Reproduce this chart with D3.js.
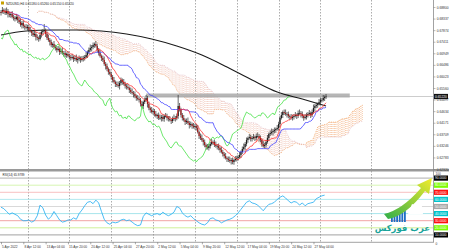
<!DOCTYPE html>
<html>
<head>
<meta charset="utf-8">
<script src="https://cdn.jsdelivr.net/npm/d3@7"></script>
<style>
  body { margin: 0; background: #fff; }
  svg { display: block; }
  text { font-family: "Liberation Sans", Arial, sans-serif; }
</style>
</head>
<body>
<svg id="chart" width="449" height="250"></svg>
<script>
// ---------------------------------------------------------------- //
// Data (prices written x10000, converted below)

var symbolTitle = 'NZDUSD,H4  0.65180 0.65260 0.65150 0.65220';
var firstOpen = 6856;

var closesPips = [
  6860,6868,6864,6856,6864,6852,6848,6852,6840,6836,
  6832,6840,6828,6820,6808,6816,6804,6800,6796,6800,
  6788,6784,6776,6768,6772,6760,6756,6752,6768,6780,
  6784,6788,6772,6756,6748,6740,6728,6732,6720,6716,
  6708,6712,6700,6704,6696,6696,6688,6692,6684,6680,
  6676,6680,6672,6676,6668,6672,6676,6668,6672,6676,
  6680,6688,6700,6708,6716,6720,6728,6732,6724,6708,
  6696,6684,6676,6668,6652,6644,6632,6620,6612,6600,
  6588,6580,6572,6568,6564,6576,6588,6580,6572,6564,
  6560,6556,6548,6540,6536,6532,6524,6516,6512,6508,
  6492,6484,6500,6508,6516,6492,6476,6468,6460,6464,
  6452,6444,6448,6436,6436,6440,6432,6444,6444,6436,
  6432,6428,6424,6432,6436,6436,6444,6484,6468,6448,
  6436,6428,6420,6424,6416,6408,6412,6404,6400,6404,
  6396,6380,6364,6356,6348,6340,6328,6320,6316,6324,
  6332,6340,6340,6328,6324,6324,6316,6308,6300,6292,
  6284,6276,6272,6268,6264,6268,6260,6268,6272,6276,
  6280,6288,6300,6312,6320,6332,6348,6356,6360,6352,
  6356,6360,6356,6364,6364,6356,6348,6332,6324,6328,
  6340,6356,6372,6376,6380,6384,6388,6392,6396,6412,
  6436,6448,6460,6456,6452,6452,6444,6440,6436,6440,
  6444,6448,6444,6456,6456,6452,6444,6436,6440,6448,
  6452,6456,6448,6460,6476,6484,6488,6492,6500,6508,
  6508,6516,6520,6522
];
var highsPips = [
  6868,6880,6874,6874,6878,6872,6862,6858,6864,6849,
  6844,6852,6846,6838,6834,6824,6826,6810,6812,6809,
  6808,6800,6790,6786,6786,6780,6770,6762,6780,6789,
  6792,6812,6794,6782,6770,6756,6750,6738,6744,6729,
  6724,6724,6718,6714,6718,6704,6706,6698,6704,6693,
  6688,6692,6686,6686,6690,6680,6686,6682,6684,6685,
  6688,6700,6706,6718,6730,6728,6738,6738,6744,6733,
  6716,6708,6690,6686,6682,6660,6654,6638,6632,6621,
  6608,6600,6586,6582,6582,6584,6598,6594,6592,6581,
  6572,6572,6562,6558,6554,6544,6542,6530,6528,6521,
  6516,6504,6506,6518,6528,6524,6502,6482,6480,6473,
  6472,6464,6454,6458,6450,6448,6450,6450,6456,6453,
  6444,6444,6434,6442,6450,6444,6454,6528,6496,6477,
  6456,6448,6434,6434,6438,6424,6422,6418,6416,6413,
  6412,6408,6386,6374,6370,6356,6350,6334,6332,6333,
  6340,6352,6346,6350,6342,6332,6334,6322,6320,6309,
  6300,6296,6282,6282,6282,6276,6278,6274,6284,6285,
  6288,6300,6306,6322,6334,6340,6358,6362,6372,6369,
  6364,6372,6366,6374,6378,6372,6366,6354,6344,6337,
  6348,6368,6378,6386,6394,6392,6398,6398,6408,6421,
  6444,6460,6466,6470,6470,6460,6462,6450,6452,6449,
  6452,6460,6454,6466,6470,6464,6462,6450,6452,6457,
  6460,6468,6462,6470,6490,6492,6498,6498,6512,6517,
  6516,6528,6526,6532
];
var lowsPips = [
  6846,6854,6852,6848,6849,6838,6839,6837,6834,6826,
  6822,6826,6816,6812,6801,6794,6795,6789,6790,6786,
  6778,6778,6764,6760,6761,6746,6747,6741,6746,6758,
  6770,6778,6760,6748,6741,6726,6719,6717,6714,6706,
  6698,6702,6688,6692,6689,6682,6679,6677,6678,6670,
  6666,6670,6660,6664,6661,6654,6663,6657,6662,6662,
  6666,6674,6676,6692,6701,6702,6711,6717,6718,6698,
  6686,6678,6664,6660,6645,6630,6623,6609,6606,6590,
  6578,6574,6560,6560,6557,6550,6567,6569,6566,6554,
  6550,6550,6536,6532,6529,6518,6515,6505,6506,6498,
  6482,6478,6472,6492,6501,6478,6467,6457,6454,6450,
  6442,6438,6432,6428,6429,6422,6423,6421,6438,6426,
  6422,6422,6412,6416,6425,6422,6427,6433,6462,6438,
  6426,6422,6408,6412,6409,6394,6399,6393,6394,6390,
  6386,6374,6352,6348,6341,6326,6319,6309,6310,6306,
  6314,6326,6328,6320,6317,6310,6307,6297,6294,6282,
  6274,6270,6260,6260,6257,6250,6251,6249,6262,6262,
  6266,6274,6276,6292,6305,6306,6323,6337,6350,6342,
  6342,6350,6344,6348,6357,6342,6339,6321,6318,6314,
  6318,6334,6344,6364,6369,6366,6375,6377,6386,6386,
  6402,6430,6436,6448,6445,6438,6435,6429,6430,6426,
  6430,6438,6432,6436,6449,6438,6435,6425,6430,6430,
  6438,6446,6436,6440,6453,6462,6475,6477,6486,6490,
  6498,6502,6504,6512
];

// 200 period moving average, read at a few bars
var maBars = [0, 18, 36, 54, 72, 90, 108, 126, 144, 162, 180, 198, 216, 233];
var maPips = [6768, 6784, 6788, 6788, 6784, 6772, 6752, 6724, 6688, 6640, 6588, 6540, 6512, 6484];

// RSI(14), one reading every 2 bars
var rsiEvery = 2;
var rsiValues = [
  49,47,43,39,41,39,37,32,30,30, 31,28,30,37,52,48,38,32,36,43,
  37,31,28,29,31,31,34,32,40,45, 51,56,57,54,59,55,43,32,27,25,
  28,27,28,31,32,30,31,28,25,23, 24,36,41,39,37,39,40,38,42,39,
  37,39,42,50,48,41,37,35,37,33, 30,27,25,24,27,33,34,31,30,27,
  29,31,32,34,37,41,46,51,56,58, 55,54,52,48,44,49,53,54,56,60,
  63,65,62,58,55,57,56,52,55,51, 54,55,56,61,63,65,65.9789
];
var rsiLevels = [90, 80, 70, 60, 50, 40, 30, 20, 10];

// resistance zone and last price
var zoneBars = [104, 250];
var zonePrices = [0.6518, 0.6534];
var lastPrice = 0.6522;

// axes
var priceTicks = [0.68800, 0.68337, 0.67874, 0.67411, 0.66949, 0.66486, 0.66023, 0.65560,
                  0.65097, 0.64634, 0.64171, 0.63709, 0.63246, 0.62783, 0.62320];
var timeBars = [0, 16, 32, 48, 64, 80, 96, 112, 128, 144, 160, 176, 192, 208, 224];
var timeLabels = ['5 Apr 2022', '8 Apr 12:00', '13 Apr 04:00', '15 Apr 20:00', '20 Apr 12:00',
                  '25 Apr 04:00', '27 Apr 20:00', '2 May 12:00', '5 May 04:00', '9 May 20:00',
                  '12 May 12:00', '17 May 04:00', '19 May 20:00', '24 May 12:00', '27 May 04:00'];
var weekBars = [19, 49, 79, 109, 139, 169, 199, 229, 265];

// ---------------------------------------------------------------- //
// Prepare

function toPrice(v){ return v / 10000; }
var closes = closesPips.map(toPrice);
var highs = highsPips.map(toPrice);
var lows = lowsPips.map(toPrice);
var opens = closes.map(function(c, i){ return i ? closes[i-1] : toPrice(firstOpen); });
var n = closes.length;

function midRange(end, len){
  var s = Math.max(0, end - len + 1);
  return (d3.max(highs.slice(s, end+1)) + d3.min(lows.slice(s, end+1))) / 2;
}
var tenkan = d3.range(n).map(function(i){ return midRange(i, 9); });
var kijun  = d3.range(n).map(function(i){ return midRange(i, 26); });
var spanA  = d3.range(n).map(function(i){ return (tenkan[i] + kijun[i]) / 2; });
var spanB  = d3.range(n).map(function(i){ return midRange(i, 52); });
var shift = 26;

// ---------------------------------------------------------------- //
// Layout

var svg = d3.select('#chart');
var plotRight = 433;
var mainBottom = 169, rsiTop = 171, rsiBottom = 242;

var x  = d3.scaleLinear().domain([0, 100]).range([1, 140.5]);
var y  = d3.scaleLinear().domain([0.6232, 0.6908]).range([mainBottom, 0]);
var yr = d3.scaleLinear().domain([0, 100]).range([rsiBottom, rsiTop]);

var defs = svg.append('defs');
defs.append('clipPath').attr('id', 'clipMain').append('rect')
  .attr('x', 0).attr('y', 0).attr('width', plotRight).attr('height', mainBottom);
defs.append('clipPath').attr('id', 'clipRsi').append('rect')
  .attr('x', 0).attr('y', rsiTop).attr('width', plotRight).attr('height', rsiBottom - rsiTop);

var main = svg.append('g').attr('clip-path', 'url(#clipMain)');
var rsiG = svg.append('g').attr('clip-path', 'url(#clipRsi)');

// week grid
[[main, 0, mainBottom], [rsiG, rsiTop, rsiBottom]].forEach(function(p){
  p[0].selectAll('line.grid').data(weekBars).enter().append('line')
    .attr('class', 'grid')
    .attr('x1', function(d){ return Math.round(x(d)) + 0.5; })
    .attr('x2', function(d){ return Math.round(x(d)) + 0.5; })
    .attr('y1', p[1]).attr('y2', p[2])
    .attr('stroke', '#8a8a8a').attr('stroke-width', 0.7).attr('stroke-dasharray', '1.5,1.5');
});

// ---------------------------------------------------------------- //
// Ichimoku cloud

var upKumo = '#f2a66e', downKumo = '#edb9a8';
main.selectAll('line.kumo').data(d3.range(n)).enter().append('line')
  .attr('class', 'kumo')
  .attr('x1', function(i){ return x(i + shift); })
  .attr('x2', function(i){ return x(i + shift); })
  .attr('y1', function(i){ return y(spanA[i]); })
  .attr('y2', function(i){ return y(spanB[i]); })
  .attr('stroke', function(i){ return spanA[i] >= spanB[i] ? upKumo : downKumo; })
  .attr('stroke-width', 0.8)
  .attr('stroke-dasharray', '0.8,1.2');

var lineA = d3.line().x(function(d, i){ return x(i + shift); }).y(function(d){ return y(d); });
main.append('path').datum(spanA).attr('d', lineA)
  .attr('fill', 'none').attr('stroke', '#f4a460').attr('stroke-width', 0.6).attr('stroke-dasharray', '1,1');
main.append('path').datum(spanB).attr('d', lineA)
  .attr('fill', 'none').attr('stroke', '#dcb0c0').attr('stroke-width', 0.6).attr('stroke-dasharray', '1,1');

// resistance zone + last price line
main.append('line')
  .attr('x1', 0).attr('x2', plotRight)
  .attr('y1', y(lastPrice)).attr('y2', y(lastPrice))
  .attr('stroke', '#b8b8b8').attr('stroke-width', 0.7);
main.append('rect')
  .attr('x', x(zoneBars[0])).attr('width', x(zoneBars[1]) - x(zoneBars[0]))
  .attr('y', y(zonePrices[1])).attr('height', y(zonePrices[0]) - y(zonePrices[1]))
  .attr('fill', '#a9a9a9').attr('opacity', 0.85);

// moving average
main.append('path')
  .datum(maBars.map(function(b, i){ return [b, toPrice(maPips[i])]; }))
  .attr('d', d3.line().curve(d3.curveMonotoneX)
    .x(function(d){ return x(d[0]); }).y(function(d){ return y(d[1]); }))
  .attr('fill', 'none').attr('stroke', '#1a1a1a').attr('stroke-width', 1.1);

// candles
var candles = main.selectAll('g.candle').data(d3.range(n)).enter().append('g').attr('class', 'candle');
candles.append('line')
  .attr('x1', function(i){ return x(i); }).attr('x2', function(i){ return x(i); })
  .attr('y1', function(i){ return y(highs[i]); }).attr('y2', function(i){ return y(lows[i]); })
  .attr('stroke', '#2b2b2b').attr('stroke-width', 0.7);
candles.append('rect')
  .attr('x', function(i){ return x(i) - 0.6; })
  .attr('width', 1.2)
  .attr('y', function(i){ return y(Math.max(opens[i], closes[i])); })
  .attr('height', function(i){ return Math.max(0.6, Math.abs(y(opens[i]) - y(closes[i]))); })
  .attr('fill', function(i){ return closes[i] >= opens[i] ? '#1e1e1e' : '#a01818'; });

// chikou, kijun, tenkan
var barLine = d3.line().x(function(d){ return x(d[0]); }).y(function(d){ return y(d[1]); });
main.append('path')
  .datum(d3.range(shift, n).map(function(i){ return [i - shift, closes[i]]; }))
  .attr('d', barLine).attr('fill', 'none').attr('stroke', '#3ee03e').attr('stroke-width', 0.75);
main.append('path')
  .datum(d3.range(6, n).map(function(i){ return [i, kijun[i]]; }))
  .attr('d', barLine).attr('fill', 'none').attr('stroke', '#3535ff').attr('stroke-width', 0.75);
main.append('path')
  .datum(d3.range(0, n).map(function(i){ return [i, tenkan[i]]; }))
  .attr('d', barLine).attr('fill', 'none').attr('stroke', '#ff2a2a').attr('stroke-width', 0.75);

// title
svg.append('rect').attr('x', 1).attr('y', 1.5).attr('width', 3).attr('height', 3).attr('fill', '#c8a000');
svg.append('text').attr('x', 6).attr('y', 4.6).attr('font-size', 3.2).attr('fill', '#222').text(symbolTitle);

// ---------------------------------------------------------------- //
// RSI window

svg.append('rect').attr('x', 0).attr('y', mainBottom).attr('width', 449).attr('height', rsiTop - mainBottom + 0.5)
  .attr('fill', '#9a9a9a');

var levelLine = { 90: '#9a9a9a', 80: '#cdf2a0', 70: '#f5b0b0', 60: '#9fe3ea', 50: '#cfcfcf',
                  40: '#8fdde6', 30: '#ee8c8c', 20: '#c4ec80', 10: '#8c8c8c' };
var levelBox  = { 90: '#000', 80: '#7cfc00', 70: '#ff1010', 60: '#00c4cc', 50: '#a8a8a8',
                  40: '#00c4cc', 30: '#ff1010', 20: '#7cfc00', 10: '#000' };

rsiG.selectAll('line.level').data(rsiLevels).enter().append('line')
  .attr('class', 'level')
  .attr('x1', 0).attr('x2', plotRight)
  .attr('y1', function(d){ return yr(d); }).attr('y2', function(d){ return yr(d); })
  .attr('stroke', function(d){ return levelLine[d]; }).attr('stroke-width', 0.8);

rsiG.append('path')
  .datum(rsiValues)
  .attr('d', d3.line().x(function(d, i){ return x(i * rsiEvery); }).y(function(d){ return yr(d); }))
  .attr('fill', 'none').attr('stroke', '#2ab0f2').attr('stroke-width', 0.85);

svg.append('text').attr('x', 2.5).attr('y', 176.3).attr('font-size', 3).attr('fill', '#222')
  .text('RSI(14) ' + rsiValues[rsiValues.length - 1].toFixed(4));

// logo
var logo = svg.append('g');
var grad = defs.append('linearGradient').attr('id', 'arrowGrad')
  .attr('x1', '0%').attr('y1', '100%').attr('x2', '100%').attr('y2', '0%');
grad.append('stop').attr('offset', '0%').attr('stop-color', '#2fae4a');
grad.append('stop').attr('offset', '100%').attr('stop-color', '#f2ec2c');
[0, 1, 2, 3, 4, 5].forEach(function(k){
  logo.append('rect').attr('x', 391 + k * 2.6).attr('y', 218 - k * 2.2).attr('width', 1.8)
    .attr('height', 4 + k * 2.2).attr('fill', '#1f6fc4');
});
logo.append('path')
  .attr('d', 'M384,214 Q402,210 421,188 L417,185 L432,178 L429,194 L425,191 Q406,216 388,219 Z')
  .attr('fill', 'url(#arrowGrad)');
logo.append('path')
  .attr('d', 'M408,214 L412,204 L417,206 L421,200 L423,214 Z').attr('fill', '#ffffff');
logo.append('text').attr('x', 430).attr('y', 230.5).attr('text-anchor', 'end')
  .attr('font-size', 8.5).attr('font-weight', 'bold').attr('fill', '#1aa39a')
  .style('font-family', '"DejaVu Sans", sans-serif')
  .text('عرب فوركس');

// ---------------------------------------------------------------- //
// Axes

svg.append('line').attr('x1', plotRight + 0.5).attr('x2', plotRight + 0.5).attr('y1', 0).attr('y2', rsiBottom)
  .attr('stroke', '#8a8a8a').attr('stroke-width', 0.8);
svg.append('line').attr('x1', 0).attr('x2', plotRight + 1).attr('y1', rsiBottom + 0.3).attr('y2', rsiBottom + 0.3)
  .attr('stroke', '#8a8a8a').attr('stroke-width', 0.8);

var priceAxis = svg.append('g').attr('transform', 'translate(' + (plotRight + 0.5) + ',0)')
  .call(d3.axisRight(y).tickValues(priceTicks).tickSize(2).tickPadding(1.2).tickFormat(d3.format('.5f')));
priceAxis.select('.domain').remove();
priceAxis.selectAll('line').attr('stroke', '#777').attr('stroke-width', 0.5);
priceAxis.selectAll('text').attr('font-size', 3.3).attr('fill', '#333').attr('font-family', null);

// last price tag
svg.append('rect').attr('x', plotRight + 1).attr('y', y(lastPrice) - 2.6).attr('width', 14).attr('height', 5.2).attr('fill', '#111');
svg.append('text').attr('x', plotRight + 2).attr('y', y(lastPrice) + 1.2).attr('font-size', 3.3).attr('fill', '#fff')
  .text(d3.format('.5f')(lastPrice));

// RSI scale labels
svg.append('text').attr('x', plotRight + 2.5).attr('y', 174.8).attr('font-size', 3.2).attr('fill', '#333').text('100');
svg.append('text').attr('x', plotRight + 2.5).attr('y', 244.5).attr('font-size', 3.2).attr('fill', '#333').text('0');
var boxes = svg.selectAll('g.lvl').data(rsiLevels).enter().append('g').attr('class', 'lvl')
  .attr('transform', function(d){ return 'translate(' + (plotRight + 1) + ',' + yr(d) + ')'; });
boxes.append('rect').attr('x', 0).attr('y', -2.6).attr('width', 14).attr('height', 5.2)
  .attr('fill', function(d){ return levelBox[d]; });
boxes.append('text').attr('x', 1).attr('y', 1.2).attr('font-size', 3.2).attr('fill', '#fff')
  .text(function(d){ return d.toFixed(4); });

// time axis
var timeAxis = svg.append('g').attr('transform', 'translate(0,' + (rsiBottom + 0.3) + ')')
  .call(d3.axisBottom(x).tickValues(timeBars).tickSize(2).tickPadding(1)
    .tickFormat(function(d, i){ return timeLabels[i]; }));
timeAxis.select('.domain').remove();
timeAxis.selectAll('line').attr('stroke', '#555').attr('stroke-width', 0.5);
timeAxis.selectAll('text').attr('font-size', 3.2).attr('fill', '#333').attr('text-anchor', 'start')
  .attr('dx', 0.6).attr('font-family', null);
</script>
</body>
</html>
